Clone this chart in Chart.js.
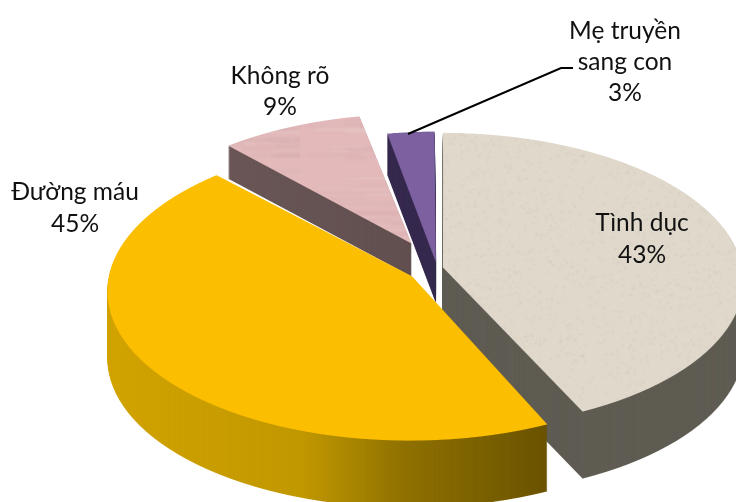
<!DOCTYPE html>
<html>
<head>
<meta charset="utf-8">
<style>
html,body{margin:0;padding:0;background:#fff}
canvas{display:block}
</style>
<script src="https://cdn.jsdelivr.net/npm/chart.js@4"></script>
</head>
<body>
<canvas id="pie" width="736" height="502"></canvas>
<script>
let categories=["Tình dục","Đường máu","Không rõ","Mẹ truyền sang con"];
let shares=[43,45,9,3];
let labelLines=[["Tình dục","43%"],["Đường máu","45%"],["Không rõ","9%"],["Mẹ truyền","sang con","3%"]];

// look of each slice
let faceColors=["#dfd8cb","#fcbe00","#e3b9ba","#7d60a0"];
let explode=[24,120,228,48];
let radiusTrim=[-4,-19,-30,-18];
let thickness=[67,67,33,41];
let paintOrder=[2,3,0,1];
let labelSpots=[[642,231,32],[75,200,32],[280,84,31],[625,39,31]];

// fake 3d view: flat disc seen from above with some perspective
let view={x0:437,y0:268,sx:1,sy:0.49,k:0.0003};
let SS=2, FLAT=1500;

function makeLayer(w,h){
    let c=document.createElement("canvas");
    c.width=w;c.height=h;
    return c;
}

// noise for the stone and marble faces, not data
function hash(i){
    let v=Math.sin(i*12.9898)*43758.5453;
    return v-Math.floor(v);
}
function stone(){
    let c=makeLayer(200,200),g=c.getContext("2d");
    g.fillStyle="#dfd8cb";g.fillRect(0,0,200,200);
    for(let i=0;i<1400;i++){
        g.fillStyle=hash(i)>0.5?"rgba(190,180,165,.22)":"rgba(245,240,232,.25)";
        g.fillRect(hash(i+.3)*200,hash(i+.7)*200,1.5,1.5);
    }
    return c;
}
function marble(){
    let c=makeLayer(300,200),g=c.getContext("2d");
    g.fillStyle="#e3b9ba";g.fillRect(0,0,300,200);
    g.filter="blur(1px)";
    for(let i=0;i<240;i++){
        g.fillStyle=hash(i)>0.5?"rgba(205,160,165,.22)":"rgba(240,210,210,.25)";
        g.fillRect(hash(i+.3)*300,hash(i+.7)*200,30+hash(i+.1)*70,2);
    }
    return c;
}

// take a slice drawn flat by the library and lay it into the view
function warp(flat){
    let out=makeLayer(736*SS,520*SS),g=out.getContext("2d");
    for(let row=0;row<out.height;row++){
        let u=row/SS-view.y0;
        let Y=u/(view.sy+view.k*u);
        let Y2=(u+1/SS)/(view.sy+view.k*(u+1/SS));
        let sc=view.sx/(1-view.k*Y);
        let srcY=(Y+FLAT/2)*SS;
        let h=(Y2-Y)*SS;
        if(srcY<0||srcY+h>flat.height) continue;
        g.drawImage(flat,0,srcY,flat.width,h,(view.x0-FLAT/2*sc)*SS,row,FLAT*sc*SS,1);
    }
    return out;
}
function tint(layer,paint){
    let g=layer.getContext("2d");
    g.globalCompositeOperation="source-in";
    g.setTransform(SS,0,0,SS,0,0);
    g.fillStyle=paint;
    g.fillRect(0,0,736,520);
    return layer;
}
function wallPaint(g,i){
    if(i==1){
        let lg=g.createLinearGradient(103,0,547,0);
        lg.addColorStop(0,"#d2a400");
        lg.addColorStop(0.45,"#c19800");
        lg.addColorStop(0.68,"#8f7100");
        lg.addColorStop(1,"#6a5300");
        return lg;
    }
    if(i==0) return "#5f5c53";
    if(i==2){
        let lg=g.createLinearGradient(0,150,0,280);
        lg.addColorStop(0,"#6a5656");
        lg.addColorStop(1,"#5f4d4d");
        return lg;
    }
    return "#372a4f";
}

let slices3d={
    id:"slices3d",
    beforeDatasetsDraw(chart){
        let ctx=chart.ctx;
        let arcs=chart.getDatasetMeta(0).data;
        paintOrder.forEach(i=>{
            let flat=makeLayer(FLAT*SS,FLAT*SS),f=flat.getContext("2d");
            f.scale(SS,SS);
            f.translate(FLAT/2-arcs[i].x,FLAT/2-arcs[i].y);
            let r=arcs[i].outerRadius;
            arcs[i].outerRadius=r+radiusTrim[i];
            arcs[i].draw(f);
            arcs[i].outerRadius=r;
            let side=warp(flat);
            let top=warp(flat);
            let g=side.getContext("2d");
            tint(side,wallPaint(g,i));
            let tg=top.getContext("2d");
            if(i==0) tint(top,tg.createPattern(stone(),"repeat"));
            if(i==2) tint(top,tg.createPattern(marble(),"repeat"));
            for(let d=thickness[i];d>=1;d--){
                ctx.drawImage(side,0,d,736,520);
            }
            ctx.drawImage(top,0,0,736,520);
        });
        return false;
    },
    afterDraw(chart){
        let ctx=chart.ctx;
        ctx.save();
        ctx.strokeStyle="#000";
        ctx.lineWidth=2;
        ctx.beginPath();
        ctx.moveTo(408,134);
        ctx.lineTo(561,68);
        ctx.lineTo(573,68);
        ctx.stroke();
        ctx.fillStyle="#111";
        ctx.font="24.5px Lato";
        ctx.textAlign="center";
        ctx.textBaseline="alphabetic";
        labelLines.forEach((lines,i)=>{
            let s=labelSpots[i];
            lines.forEach((t,n)=>ctx.fillText(t,s[0],s[1]+n*s[2]));
        });
        ctx.restore();
    }
};

new Chart(document.getElementById("pie"),{
    type:"pie",
    data:{
        labels:categories,
        datasets:[{data:shares,backgroundColor:faceColors,borderWidth:0,offset:explode}]
    },
    options:{
        responsive:false,
        animation:false,
        radius:300,
        layout:{padding:0},
        plugins:{legend:{display:false},tooltip:{enabled:false}}
    },
    plugins:[slices3d]
});
</script>
</body>
</html>
